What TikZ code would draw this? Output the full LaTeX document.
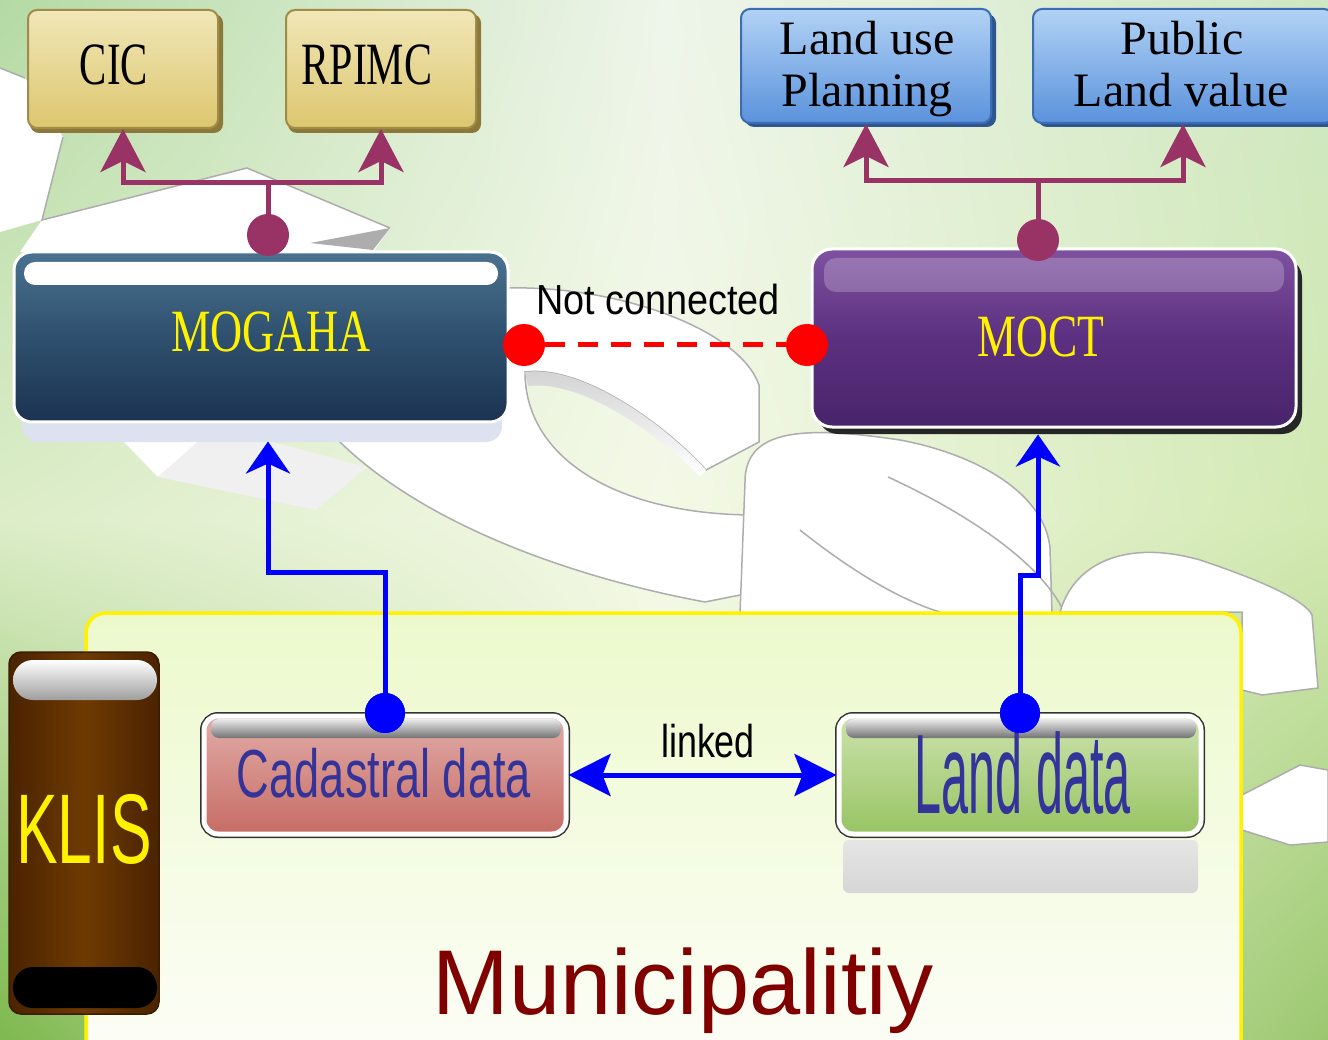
\documentclass[tikz,border=0pt]{standalone}
\usepackage{fontspec}
\setmainfont{Liberation Serif}
\newfontfamily\arialf{Liberation Sans}
\usepackage{graphicx}
\usetikzlibrary{arrows.meta,shadings}
\definecolor{bgA}{HTML}{B4DAA4}
\definecolor{bgB}{HTML}{EEF5EA}
\definecolor{bgC}{HTML}{CFE7C2}
\definecolor{bgD}{HTML}{DCEDC8}
\definecolor{bgE}{HTML}{F4F9E6}
\definecolor{bgF}{HTML}{D2E9B2}
\definecolor{bgG}{HTML}{7EB84E}
\definecolor{bgH}{HTML}{EEF6DC}
\definecolor{bgI}{HTML}{9CC870}
\definecolor{frameTop}{HTML}{ECF9CC}
\definecolor{frameBot}{HTML}{FDFEF8}
\definecolor{goldA}{HTML}{F1E7B8}
\definecolor{goldB}{HTML}{DCC66E}
\definecolor{goldE}{HTML}{A08C48}
\definecolor{goldS}{HTML}{8C7838}
\definecolor{blueA}{HTML}{B2D2F5}
\definecolor{blueB}{HTML}{5A92DC}
\definecolor{blueE}{HTML}{3C6CB4}
\definecolor{mogA}{HTML}{4A7290}
\definecolor{mogB}{HTML}{2E506E}
\definecolor{mogC}{HTML}{1C3252}
\definecolor{moctA}{HTML}{7E52A0}
\definecolor{moctB}{HTML}{5C3080}
\definecolor{moctC}{HTML}{48246A}
\definecolor{plum}{HTML}{993366}
\definecolor{cadA}{HTML}{E2ACA8}
\definecolor{cadB}{HTML}{C66C64}
\definecolor{landA}{HTML}{CCE2AC}
\definecolor{landB}{HTML}{98C464}
\definecolor{navytxt}{HTML}{333399}
\definecolor{munired}{HTML}{800000}
\definecolor{brownD}{HTML}{4A2300}
\definecolor{brownL}{HTML}{6E3A02}
\definecolor{lavend}{HTML}{DCE2F0}
\begin{document}
\begin{tikzpicture}[x=1pt,y=-1pt,
  decor/.style={draw=black!32, line width=1.5pt},
  goldbox/.style={rounded corners=9pt, draw=goldE, line width=2pt, top color=goldA, bottom color=goldB, minimum width=190pt, minimum height=118pt, inner sep=0pt},
  bluebox/.style={rounded corners=9pt, draw=blueE, line width=2pt, top color=blueA, bottom color=blueB, minimum height=114pt, inner sep=0pt},
  mogbox/.style={rounded corners=18pt, draw=white, line width=3pt, top color=mogA, bottom color=mogC, middle color=mogB, minimum width=494pt, minimum height=170pt, inner sep=0pt},
  moctbox/.style={rounded corners=20pt, draw=white, line width=3pt, top color=moctA, bottom color=moctC, middle color=moctB, minimum width=484pt, minimum height=178pt, inner sep=0pt},
  databox/.style={rounded corners=14pt, preaction={draw=black!80, line width=8pt}, draw=white, line width=5pt, minimum width=362pt, minimum height=118pt, inner sep=0pt},
  klisbox/.style={rounded corners=12pt, draw=brownD!80!black, line width=1.5pt, left color=brownD, right color=brownD, middle color=brownL, minimum width=150pt, minimum height=362pt, inner sep=0pt},
  pdot/.style={circle, fill=plum, minimum size=42pt, inner sep=0pt},
  bdot/.style={circle, fill=blue, minimum size=40pt, inner sep=0pt},
  rdot/.style={circle, fill=red, minimum size=42pt, inner sep=0pt},
  pline/.style={draw=plum, line width=5pt},
  bline/.style={draw=blue, line width=5pt},
  ptip/.tip={Stealth[length=43pt,width=45pt,inset=11pt]},
  btip/.tip={Stealth[length=32pt,width=44pt,inset=10pt]},
  ltip/.tip={Stealth[length=42pt,width=42pt,inset=8pt]},
  txt/.style={inner sep=0pt, anchor=base}
]
\useasboundingbox (0,0) rectangle (1328,1040);
% background
\shade[upper left=bgA, upper right=bgB, lower left=bgD, lower right=bgE] (0,0) rectangle (664,520);
\shade[upper left=bgB, upper right=bgC, lower left=bgE, lower right=bgF] (664,0) rectangle (1328,520);
\shade[upper left=bgD, upper right=bgE, lower left=bgG, lower right=bgH] (0,520) rectangle (664,1040);
\shade[upper left=bgE, upper right=bgF, lower left=bgH, lower right=bgI] (664,520) rectangle (1328,1040);
% decorative 3D letters
\fill[white] (0,68) -- (25,78) -- (63,137) -- (42,220) -- (0,232) -- cycle;
\fill[white] (42,220) -- (247,168) -- (390,228) -- (373,252) -- (20,252) -- cycle;
\draw[decor] (0,68) -- (25,78);
\draw[decor] (63,137) -- (42,220) -- (247,168) -- (390,228);
\fill[black!32] (310,243) -- (390,228) -- (373,250) -- cycle;
\fill[white] (122,440) -- (158,477) -- (200,440) -- cycle;
\fill[black!6] (158,477) -- (316,510) -- (367,467) -- (265,440) -- (200,440) -- cycle;
\path[fill=white, decor] (505,288) .. controls (620,285) and (740,330) .. (759,385) -- (759,442) -- (706,470)
  .. controls (660,420) and (580,365) .. (525,372)
  .. controls (525,460) and (620,515) .. (755,515) -- (755,592) -- (705,602)
  .. controls (560,575) and (420,520) .. (340,442) -- cycle;
\shade[top color=black!18, bottom color=white] (525,372) .. controls (580,365) and (660,420) .. (706,470) -- (700,476) .. controls (650,428) and (580,380) .. (528,386) -- cycle;
\path[fill=white, decor] (745,482) .. controls (745,430) and (800,425) .. (900,440)
  .. controls (980,455) and (1045,495) .. (1050,548) -- (1052,614) -- (740,614) -- cycle;
\draw[decor] (888,477) .. controls (960,510) and (1040,560) .. (1064,612);
\draw[decor] (800,530) .. controls (850,570) and (900,600) .. (940,612);
\path[fill=white, decor] (1060,612) .. controls (1075,560) and (1130,540) .. (1200,560)
  .. controls (1260,580) and (1305,600) .. (1312,615) -- (1318,688) -- (1262,695) -- (1242,690) -- (1242,612) -- cycle;
\path[fill=white, decor] (1242,795) -- (1300,765) -- (1328,770) -- (1328,842) -- (1290,845) -- (1242,830) -- cycle;
% municipality frame
\path[draw=yellow, line width=3.5pt, rounded corners=20pt, top color=frameTop, bottom color=frameBot] (86,613) rectangle (1241,1070);
\node[txt, font=\arialf\fontsize{92}{92}\selectfont, text=munired] (muni) at (683,1014) {Municipalitiy};
% KLIS
\node[klisbox] (klis) at (84,833) {};
\shade[top color=white, bottom color=black!38, rounded corners=20pt] (13,660) rectangle (157,700);
\fill[black, rounded corners=20pt] (13,967) rectangle (157,1008);
\node[txt, text=yellow, font=\arialf\fontsize{99}{99}\selectfont] (klistxt) at (84,863) {\scalebox{0.63}[1]{KLIS}};
% gold boxes
\fill[goldS, rounded corners=9pt] (30,14) rectangle (223,133);
\node[goldbox] (cic) at (123,69) {};
\fill[goldS, rounded corners=9pt] (288,14) rectangle (481,133);
\node[goldbox] (rpimc) at (381,69) {};
\node[txt, font=\fontsize{60}{60}\selectfont] (cictxt) at (114,85) {\scalebox{0.68}[1]{CIC}};
\node[txt, font=\fontsize{60}{60}\selectfont] (rptxt) at (367,85) {\scalebox{0.70}[1]{RPIMC}};
% blue boxes
\fill[blueE!80!black, rounded corners=9pt] (745,14) rectangle (996,127);
\node[bluebox, minimum width=250pt] (lup) at (866,66) {};
\fill[blueE!80!black, rounded corners=9pt] (1038,14) rectangle (1340,127);
\node[bluebox, minimum width=300pt] (plv) at (1183,66) {};
\node[txt, font=\fontsize{48}{48}\selectfont] (lu1) at (867,55) {Land use};
\node[txt, font=\fontsize{48}{48}\selectfont] (lu2) at (867,107) {Planning};
\node[txt, font=\fontsize{48}{48}\selectfont] (pl1) at (1182,55) {Public};
\node[txt, font=\fontsize{48}{48}\selectfont] (pl2) at (1181,107) {Land value};
% MOGAHA
\fill[lavend, rounded corners=16pt] (22,400) rectangle (502,442);
\node[mogbox] (mog) at (261,337) {};
\fill[white, rounded corners=11pt] (24,262) rectangle (498,285);
\node[txt, text=yellow, font=\fontsize{60}{60}\selectfont] (mogtxt) at (271,352) {\scalebox{0.74}[1]{MOGAHA}};
% MOCT
\fill[black!85, rounded corners=20pt] (818,258) rectangle (1302,434);
\node[moctbox] (moct) at (1054,338) {};
\fill[white, opacity=0.22, rounded corners=12pt] (824,258) rectangle (1284,292);
\node[txt, text=yellow, font=\fontsize{60}{60}\selectfont] (mocttxt) at (1041,357) {\scalebox{0.73}[1]{MOCT}};
% data boxes
\shade[top color=black!10, bottom color=black!16, rounded corners=6pt] (843,840) rectangle (1198,893);
\node[databox, top color=cadA, bottom color=cadB] (cad) at (385,775) {};
\node[databox, top color=landA, bottom color=landB] (land) at (1020,775) {};
\shade[top color=black!8, bottom color=black!55, rounded corners=8pt] (211,719) rectangle (561,738);
\shade[top color=black!8, bottom color=black!55, rounded corners=8pt] (846,719) rectangle (1196,738);
\node[txt, text=navytxt, font=\arialf\fontsize{68}{68}\selectfont] (cadtxt) at (384,797) {\scalebox{0.665}[1]{Cadastral data}};
\node[txt, text=navytxt, font=\arialf\fontsize{113}{113}\selectfont] (landtxt) at (1023,813) {\scalebox{0.43}[1]{Land data}};
% purple connectors
\node[pdot] (mogdot) at (268,235) {};
\coordinate (mogj) at (268,183);
\draw[pline] (mogdot.center) -- (mogj);
\draw[pline, -ptip] (mogj) -| (cic.south);
\draw[pline, -ptip] (mogj) -| (rpimc.south);
\node[pdot] (moctdot) at (1038,240) {};
\coordinate (moctj) at (1038,181);
\draw[pline] (moctdot.center) -- (moctj);
\draw[pline, -ptip] (moctj) -| (lup.south);
\draw[pline, -ptip] (moctj) -| (plv.south);
% not connected
\node[rdot] (rd1) at (524,345) {};
\node[rdot] (rd2) at (807,345) {};
\draw[red, line width=5pt, dash pattern=on 20pt off 13pt] (rd1) -- (rd2);
\node[txt, font=\arialf\fontsize{42}{42}\selectfont] (nc) at (658,315) {\scalebox{0.9}[1]{Not connected}};
% blue connectors
\node[bdot] (caddot) at (385,713) {};
\node[bdot] (landdot) at (1020,713) {};
\coordinate (cadj1) at (385,572);
\coordinate (cadj2) at (268,572);
\path (cadj2 |- mog.south) ++(0,18) coordinate (mogin);
\draw[bline, -btip] (caddot.center) -- (cadj1) -- (cadj2) -- (mogin);
\coordinate (landj1) at (1020,575);
\coordinate (landj2) at (1038,575);
\path (landj2 |- moct.south) ++(0,6) coordinate (moctin);
\draw[bline, -btip] (landdot.center) -- (landj1) -- (landj2) -- (moctin);
\node[bdot] at (caddot) {};
\node[bdot] at (landdot) {};
\draw[bline, ltip-ltip] (cad.east) -- (land.west);
\node[txt, font=\arialf\fontsize{46}{46}\selectfont] (lk) at (708,757) {\scalebox{0.78}[1]{linked}};
\end{tikzpicture}
\end{document}
